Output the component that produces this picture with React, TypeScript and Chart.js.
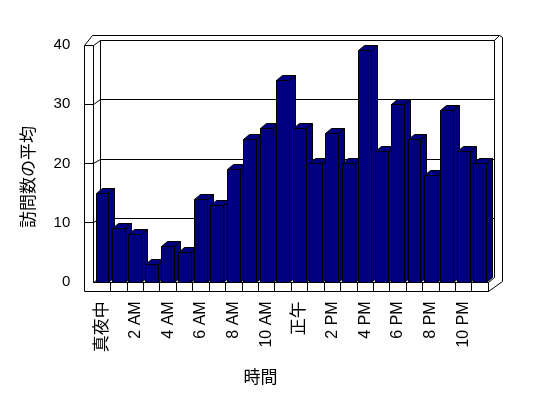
import { useEffect, useRef } from 'react';
import { Chart, registerables } from 'chart.js';

Chart.register(...registerables);

const hours: string[] = [
  '真夜中', '1 AM', '2 AM', '3 AM', '4 AM', '5 AM', '6 AM', '7 AM', '8 AM', '9 AM', '10 AM', '11 AM',
  '正午', '1 PM', '2 PM', '3 PM', '4 PM', '5 PM', '6 PM', '7 PM', '8 PM', '9 PM', '10 PM', '11 PM',
];
const avgVisits: number[] = [15, 9, 8, 3, 6, 5, 14, 13, 19, 24, 26, 34, 26, 20, 25, 20, 39, 22, 30, 24, 18, 29, 22, 20];
const yMin = 0;
const yMax = 40;
const yStep = 10;
const xTitle = '時間';
const yTitle = '訪問数の平均';
const seriesName = '訪問数の平均';
const barColor = '#000080';

const FAMILY = "'Liberation Sans', 'Noto Sans CJK JP', sans-serif";
const CJK_FAMILY = "'Noto Sans CJK JP', sans-serif";
const isCJK = (t: string) => /[^\x00-\x7F]/.test(t);
const s = (v: number) => Math.round(v - 0.5) + 0.5;

const box3d = {
  id: 'box3d',
  beforeDatasetsDraw(chart: any) {
    const { ctx, chartArea: ca, scales } = chart;
    const x = scales.x;
    const y = scales.y;
    const L = ca.left;
    const R = ca.right;
    const T = y.getPixelForValue(yMax);
    const B = y.getPixelForValue(yMin);
    const dx = 6;
    const dy = -4.6;
    const fl = 8.7;
    ctx.save();
    ctx.lineWidth = 1;
    ctx.strokeStyle = '#000';
    ctx.fillStyle = '#fff';
    const poly = (pts: number[][], fill: string | null) => {
      ctx.beginPath();
      pts.forEach((p, i) => (i ? ctx.lineTo(s(p[0]), s(p[1])) : ctx.moveTo(s(p[0]), s(p[1]))));
      ctx.closePath();
      if (fill) {
        ctx.fillStyle = fill;
        ctx.fill();
      }
      ctx.stroke();
    };
    const line = (x1: number, y1: number, x2: number, y2: number) => {
      ctx.beginPath();
      ctx.moveTo(s(x1), s(y1));
      ctx.lineTo(s(x2), s(y2));
      ctx.stroke();
    };
    // outer shell
    poly(
      [
        [L - 10, T],
        [L - 1.5, T + dy - 5.2],
        [R + dx + 5.5, T + dy - 5.2],
        [R + dx + 7.6, T + dy - 3],
        [R + dx + 7.6, B + dy + 3.5],
        [R, B + fl],
        [L - 10, B + fl],
      ],
      '#fff'
    );
    // left wall
    line(L - 10, T, L - 1, T);
    line(L - 1, T, L - 1, B);
    line(L - 1, T, L + dx, T + dy);
    // back wall
    line(L + dx, T + dy, R + dx, T + dy);
    line(L + dx, T + dy, L + dx, B + dy);
    line(R + dx, T + dy, R + dx, B + dy);
    line(R + dx, T + dy, R + dx + 5.5, T + dy - 5.2);
    // floor
    line(L - 1, B, R, B);
    line(R, B, R, B + fl);
    line(R, B, R + dx, B + dy);
    line(L - 1, B, L + dx, B + dy);
    // gridlines
    for (let v = yMin + yStep; v < yMax; v += yStep) {
      const yy = y.getPixelForValue(v);
      line(L - 10, yy, L - 1, yy);
      line(L - 1, yy, L + dx, yy + dy);
      line(L + dx, yy + dy, R + dx, yy + dy);
    }
    // floor front dividers
    for (let k = 1; k < hours.length; k++) {
      const bx = (x.getPixelForValue(k - 1) + x.getPixelForValue(k)) / 2;
      line(bx, B, bx, B + fl);
    }
    // bars
    const meta = chart.getDatasetMeta(0);
    const bdx = 6;
    const bdy = -5;
    meta.data.forEach((el: any) => {
      const p = el.getProps(['x', 'y', 'base', 'width'], true);
      const xl = s(p.x - p.width / 2);
      const xr = s(p.x + p.width / 2);
      const yt = s(p.y);
      const yb = s(p.base);
      const pl = (pts: number[][]) => {
        ctx.beginPath();
        pts.forEach((q, i) => (i ? ctx.lineTo(q[0], q[1]) : ctx.moveTo(q[0], q[1])));
        ctx.closePath();
        ctx.fillStyle = barColor;
        ctx.fill();
        ctx.stroke();
      };
      pl([[xr, yt], [xr + bdx, yt + bdy], [xr + bdx, yb + bdy], [xr, yb]]);
      pl([[xl, yt], [xl + bdx, yt + bdy], [xr + bdx, yt + bdy], [xr, yt]]);
      pl([[xl, yt], [xr, yt], [xr, yb], [xl, yb]]);
    });
    ctx.restore();
    return false;
  },
  afterDraw(chart: any) {
    const { ctx } = chart;
    ctx.save();
    ctx.fillStyle = '#000';
    ctx.font = `17px ${CJK_FAMILY}`;
    ctx.textAlign = 'center';
    ctx.textBaseline = 'middle';
    ctx.fillText(xTitle, 252.5, 369);
    ctx.translate(20, 169);
    ctx.rotate(-Math.PI / 2);
    ctx.fillText(yTitle, 0, 0);
    ctx.restore();
  },
};

export default function App() {
  const ref = useRef<HTMLCanvasElement | null>(null);
  useEffect(() => {
    if (!ref.current) return;
    const chart = new Chart(ref.current, {
      type: 'bar',
      data: {
        labels: hours,
        datasets: [
          {
            label: seriesName,
            data: avgVisits,
            backgroundColor: barColor,
            borderColor: '#000',
            borderWidth: 1,
            barPercentage: 0.79,
            categoryPercentage: 1,
          },
        ],
      },
      options: {
        responsive: false,
        animation: false,
        events: [],
        layout: { padding: { top: 37, right: 51.6, left: 0, bottom: 0 } },
        plugins: { legend: { display: false }, tooltip: { enabled: false }, title: { display: false } },
        scales: {
          x: {
            grid: { display: false, drawTicks: false },
            border: { display: false },
            ticks: {
              autoSkip: false,
              minRotation: 90,
              maxRotation: 90,
              padding: 19,
              color: '#000',
              callback: (_v: any, i: number) => (i % 2 === 0 ? hours[i] : ''),
              font: (c: any) => ({ family: FAMILY, size: isCJK(hours[c.index] || '') ? 17 : 16 }),
            },
            afterFit: (sc: any) => {
              sc.height = 107.7;
            },
          },
          y: {
            min: yMin,
            max: yMax,
            grid: { display: false, drawTicks: false },
            border: { display: false },
            ticks: { stepSize: yStep, padding: 24, color: '#000', font: { family: FAMILY, size: 15 } },
            afterFit: (sc: any) => {
              sc.width = 86.3;
            },
          },
        },
      },
      plugins: [box3d],
    });
    return () => chart.destroy();
  }, []);
  return (
    <div style={{ width: 532, height: 382 }}>
      <canvas ref={ref} width={532} height={382} style={{ display: 'block' }} />
    </div>
  );
}
